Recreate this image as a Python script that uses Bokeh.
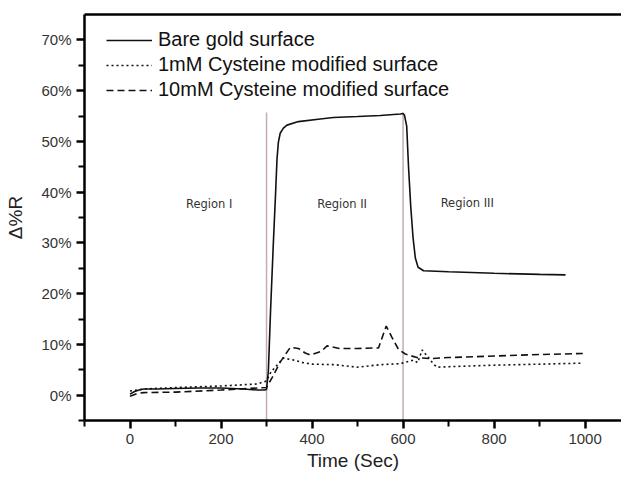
from bokeh.plotting import figure
from bokeh.models import (Range1d, FixedTicker, PrintfTickFormatter, Legend,
                          LegendItem, LinearAxis, ColumnDataSource)
from bokeh.core.properties import value
from bokeh.embed import file_html
from bokeh.resources import INLINE

# ---- data (percent) ----
bare_t = [0, 10, 20, 30, 60, 100, 150, 200, 250, 280, 295, 300, 304, 309, 315, 320, 323, 326, 330, 337, 345,
          370, 418, 447, 500, 550, 594, 600, 603, 608, 612, 617, 622, 627, 633, 645, 700, 800, 900, 957]
bare_v = [0.2, 0.7, 1.0, 1.2, 1.2, 1.3, 1.4, 1.4, 1.2, 1.0, 1.0, 1.1, 4.7, 17.0, 30.0, 40.0, 46.5, 49.8, 51.6, 52.6, 53.2,
          53.9, 54.4, 54.7, 54.9, 55.1, 55.4, 55.5, 55.2, 53.0, 45.0, 37.0, 31.0, 27.0, 25.2, 24.5, 24.3, 24.0, 23.8, 23.7]

mm1_t = [0, 15, 30, 100, 200, 280, 300, 310, 337, 360, 380, 400, 450, 499, 550, 594, 623, 632, 642,
         655, 667, 675, 700, 800, 900, 994]
mm1_v = [0.8, 1.0, 1.2, 1.5, 1.8, 2.2, 2.8, 4.6, 7.3, 6.9, 6.4, 6.1, 6.0, 5.5, 6.0, 6.2, 6.9, 6.4, 8.9,
         7.5, 6.1, 5.5, 5.6, 5.9, 6.1, 6.3]

mm10_t = [0, 15, 30, 100, 200, 280, 300, 312, 330, 352, 370, 385, 396, 420, 433, 460, 500, 546, 563,
          575, 590, 605, 630, 660, 700, 800, 900, 995]
mm10_v = [-0.2, 0.3, 0.5, 0.6, 1.0, 1.4, 1.5, 3.4, 6.5, 9.4, 9.2, 8.3, 7.9, 8.6, 9.7, 9.2, 9.2, 9.3, 13.6,
          11.5, 9.0, 8.1, 7.4, 7.2, 7.4, 7.7, 8.0, 8.2]

labels = ["Bare gold surface", "1mM Cysteine modified surface", "10mM Cysteine modified surface"]
region_labels = ["Region I", "Region II", "Region III"]
region_x = [174, 466, 741]
region_y = [37.7, 37.7, 37.9]
boundaries = [300, 600]
x_ticks = [0, 200, 400, 600, 800, 1000]
x_minor = [-100, 100, 300, 500, 700, 900]
y_ticks = [0, 10, 20, 30, 40, 50, 60, 70]
y_minor = [-5, 5, 15, 25, 35, 45, 55, 65]

FONT = "Liberation Sans"
INK = "#000000"

p = figure(width=621, height=477, output_backend="svg", toolbar_location=None,
           x_range=Range1d(-100, 1080), y_range=Range1d(-5, 75),
           min_border_left=84, min_border_right=0, min_border_top=14, min_border_bottom=57)
p.outline_line_color = None
p.grid.visible = False

# vertical region boundaries
for b in boundaries:
    p.segment(x0=[b], y0=[-5], x1=[b], y1=[55.7], line_color="#c4acb0", line_width=1.5)

r_bare = p.line(bare_t, bare_v, line_color="#111111", line_width=1.6)
r_1 = p.line(mm1_t, mm1_v, line_color="#111111", line_width=1.6, line_dash="2 3")
r_10 = p.line(mm10_t, mm10_v, line_color="#111111", line_width=1.6, line_dash="7 4")

src = ColumnDataSource(dict(x=region_x, y=region_y, t=region_labels))
p.text(x="x", y="y", text="t", source=src, text_font=value("DejaVu Sans"),
       text_font_size="11.5px", text_color="#333333", text_align="center", text_baseline="middle")

# axes styling (splat over bottom and left axes)
for axs in (p.xaxis, p.yaxis):
    axs.axis_line_width = 2.5
    axs.axis_line_color = INK
    axs.major_tick_line_width = 2.5
    axs.minor_tick_line_width = 2
    axs.major_tick_line_color = INK
    axs.minor_tick_line_color = INK
    axs.major_tick_out = 8
    axs.major_tick_in = 0
    axs.minor_tick_out = 6
    axs.minor_tick_in = 0
    axs.major_label_text_font = FONT
    axs.major_label_text_font_size = "15px"
    axs.major_label_text_color = "#333333"
    axs.axis_label_text_font = FONT
    axs.axis_label_text_font_size = "19px"
    axs.axis_label_text_font_style = "normal"
    axs.axis_label_text_color = "#222222"
    axs.major_label_standoff = 5

p.xaxis.ticker = FixedTicker(ticks=x_ticks, minor_ticks=x_minor)
p.yaxis.ticker = FixedTicker(ticks=y_ticks, minor_ticks=y_minor)
p.yaxis.formatter = PrintfTickFormatter(format="%d%%")
p.xaxis.axis_label = "Time (Sec)"
p.yaxis.axis_label = "Δ%R"
p.xaxis.axis_label_standoff = 3
p.yaxis.axis_label_standoff = 12

# top border as an empty axis
top = LinearAxis(ticker=FixedTicker(ticks=[]), axis_line_width=2.5, axis_line_color=INK,
                 major_tick_out=0, minor_tick_out=0, major_label_text_font_size="0px")
p.add_layout(top, "above")

legend = Legend(items=[LegendItem(label=labels[0], renderers=[r_bare]),
                       LegendItem(label=labels[1], renderers=[r_1]),
                       LegendItem(label=labels[2], renderers=[r_10])],
                location=(22, 319))
legend.border_line_color = None
legend.background_fill_alpha = 0
legend.label_text_font = FONT
legend.label_text_font_size = "20px"
legend.label_text_color = "#111111"
legend.glyph_width = 46
legend.label_standoff = 6
legend.spacing = 2
legend.label_height = 22
legend.glyph_height = 22
legend.padding = 0
legend.margin = 0
p.add_layout(legend)

open("out.html", "w").write(file_html(p, INLINE))
